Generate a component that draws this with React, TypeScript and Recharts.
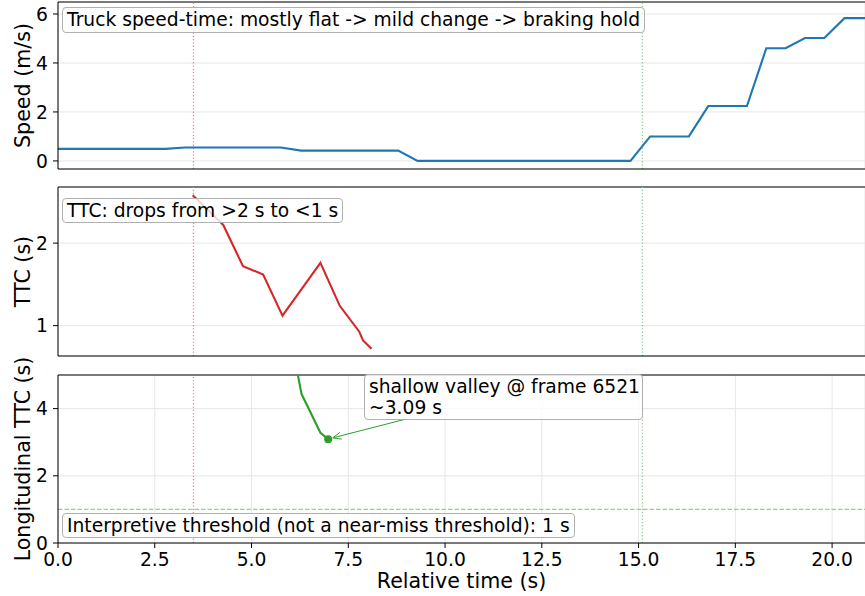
import React from 'react';
import { LineChart, Line, XAxis, YAxis, CartesianGrid, ReferenceLine, ReferenceDot, Label } from 'recharts';

// shared time axis
const timeTicks = [0, 2.5, 5, 7.5, 10, 12.5, 15, 17.5, 20];
const timeMax = 20.85;
const eventStart = 3.5;
const eventEnd = 15.1;

// panel 1: truck speed
const speedTime = [0, 2.77, 3.28, 5.76, 6.28, 8.79, 9.29, 14.79, 15.3, 16.3, 16.8, 17.8, 18.3, 18.8, 19.3, 19.8, 20.32, 20.85];
const speedValue = [0.49, 0.49, 0.55, 0.55, 0.42, 0.42, 0, 0, 1.0, 1.0, 2.24, 2.24, 4.6, 4.6, 5.02, 5.02, 5.83, 5.83];
const speedTicks = [0, 2, 4, 6];

// panel 2: TTC
const ttcTime = [3.48, 4.27, 4.78, 5.3, 5.8, 6.78, 7.28, 7.78, 7.88, 8.1];
const ttcValue = [2.58, 2.22, 1.72, 1.62, 1.12, 1.76, 1.24, 0.93, 0.82, 0.72];
const ttcTicks = [1, 2];

// panel 3: longitudinal TTC
const lonTime = [5.79, 6.29, 6.78, 6.98];
const lonValue = [7.5, 4.44, 3.28, 3.09];
const lonTicks = [0, 2, 4];
const threshold = 1;
const valleyTime = 6.98;
const valleyTTC = 3.09;
const arrowFrom = { x: 8.96, y: 3.68 };
const arrowTo = { x: 7.1, y: 3.13 };

const FONT = '"DejaVu Sans", sans-serif';
const BLUE = '#1f77b4';
const RED = '#d62728';
const GREEN = '#2ca02c';
const LIGHT_RED = '#ec8a8a';
const LIGHT_GREEN = '#8fd28f';

const toRows = (t: number[], v: number[]) => t.map((x, i) => ({ t: x, v: v[i] }));

const yLabel = (text: string) => (props: any) => {
  const vb = props.viewBox || {};
  const cy = vb.y + vb.height / 2;
  return (
    <text transform={`translate(30, ${cy}) rotate(-90)`} textAnchor="middle" fontSize={20.6} fontFamily={FONT} fill="#000">
      {text}
    </text>
  );
};

const ArrowShape = (p: any) => {
  const { x1, y1, x2, y2 } = p;
  const a = Math.atan2(y2 - y1, x2 - x1);
  const len = 9;
  const h1 = { x: x2 - len * Math.cos(a - 0.4), y: y2 - len * Math.sin(a - 0.4) };
  const h2 = { x: x2 - len * Math.cos(a + 0.4), y: y2 - len * Math.sin(a + 0.4) };
  return (
    <g stroke={GREEN} strokeWidth={1} fill="none">
      <line x1={x1} y1={y1} x2={x2} y2={y2} />
      <polyline points={`${h1.x},${h1.y} ${x2},${y2} ${h2.x},${h2.y}`} />
    </g>
  );
};

const tickStyle = { fill: '#000', fontSize: 18.7, fontFamily: FONT };

const boxStyle: React.CSSProperties = {
  position: 'absolute',
  boxSizing: 'border-box',
  background: 'rgba(255,255,255,0.8)',
  border: '1px solid #b0b0b0',
  borderRadius: 4,
  padding: '0 4px',
  fontFamily: FONT,
  fontSize: 18.7,
  color: '#000',
  whiteSpace: 'nowrap',
};

function Panel({ top, height, marginTop, xHeight, showX, data, color, domain, ticks, label, children }: any) {
  return (
    <div style={{ position: 'absolute', left: 0, top }}>
      <LineChart width={865} height={height} margin={{ top: marginTop, right: 0, bottom: 0, left: 0 }}>
        <CartesianGrid stroke="#e6e6e6" strokeWidth={1} />
        <XAxis
          type="number"
          dataKey="t"
          domain={[0, timeMax]}
          ticks={timeTicks}
          allowDataOverflow
          height={xHeight}
          tick={showX ? tickStyle : false}
          tickFormatter={(v: number) => v.toFixed(1)}
          tickSize={5}
          tickMargin={5}
          tickLine={{ stroke: '#000' }}
          axisLine={{ stroke: '#000' }}
        >
          {showX && <Label value="Relative time (s)" position="insideBottom" offset={8} style={{ fontSize: 20.6, fontFamily: FONT, fill: '#000' }} />}
        </XAxis>
        <YAxis
          type="number"
          domain={domain}
          ticks={ticks}
          allowDataOverflow
          width={58}
          tick={tickStyle}
          tickSize={5}
          tickMargin={5}
          tickLine={{ stroke: '#000' }}
          axisLine={{ stroke: '#000' }}
        >
          <Label content={yLabel(label)} />
        </YAxis>
        <ReferenceLine y={domain[1]} stroke="#000" ifOverflow="visible" />
        <ReferenceLine x={eventStart} stroke={LIGHT_RED} strokeDasharray="1.3 2" strokeWidth={1.3} />
        <ReferenceLine x={eventEnd} stroke={LIGHT_GREEN} strokeDasharray="1.3 2" strokeWidth={1.3} />
        {children}
        <Line data={data} dataKey="v" type="linear" stroke={color} strokeWidth={2.1} dot={false} isAnimationActive={false} />
      </LineChart>
    </div>
  );
}

export default function App() {
  return (
    <div style={{ position: 'absolute', left: 0, top: 0, width: 865, height: 596, background: '#fff', overflow: 'hidden' }}>
      <Panel top={0} height={180} marginTop={2} xHeight={11} showX={false}
        data={toRows(speedTime, speedValue)} color={BLUE} domain={[-0.33, 6.49]} ticks={speedTicks} label="Speed (m/s)" />
      <Panel top={185} height={182} marginTop={2} xHeight={11} showX={false}
        data={toRows(ttcTime, ttcValue)} color={RED} domain={[0.632, 2.68]} ticks={ttcTicks} label="TTC (s)" />
      <Panel top={353} height={243} marginTop={22} xHeight={53} showX
        data={toRows(lonTime, lonValue)} color={GREEN} domain={[0, 5]} ticks={lonTicks} label="Longitudinal TTC (s)">
        <ReferenceLine y={threshold} stroke={LIGHT_GREEN} strokeDasharray="4.5 2" strokeWidth={1.3} />
        <ReferenceDot x={valleyTime} y={valleyTTC} r={4} fill={GREEN} stroke="none" />
        <ReferenceLine segment={[arrowFrom, arrowTo]} ifOverflow="visible" shape={ArrowShape} />
      </Panel>

      <div style={{ ...boxStyle, left: 62, top: 7, height: 25.5, lineHeight: '23.5px' }}>
        Truck speed-time: mostly flat -&gt; mild change -&gt; braking hold
      </div>
      <div style={{ ...boxStyle, left: 62, top: 197.7, height: 25, lineHeight: '23px' }}>
        TTC: drops from &gt;2 s to &lt;1 s
      </div>
      <div style={{ ...boxStyle, left: 62, top: 512.7, height: 25, lineHeight: '23px' }}>
        Interpretive threshold (not a near-miss threshold): 1 s
      </div>
      <div style={{ ...boxStyle, left: 364, top: 374, width: 278.5, height: 46, lineHeight: '21px', padding: '1px 4px' }}>
        shallow valley @ frame 6521<br />~3.09 s
      </div>
    </div>
  );
}
